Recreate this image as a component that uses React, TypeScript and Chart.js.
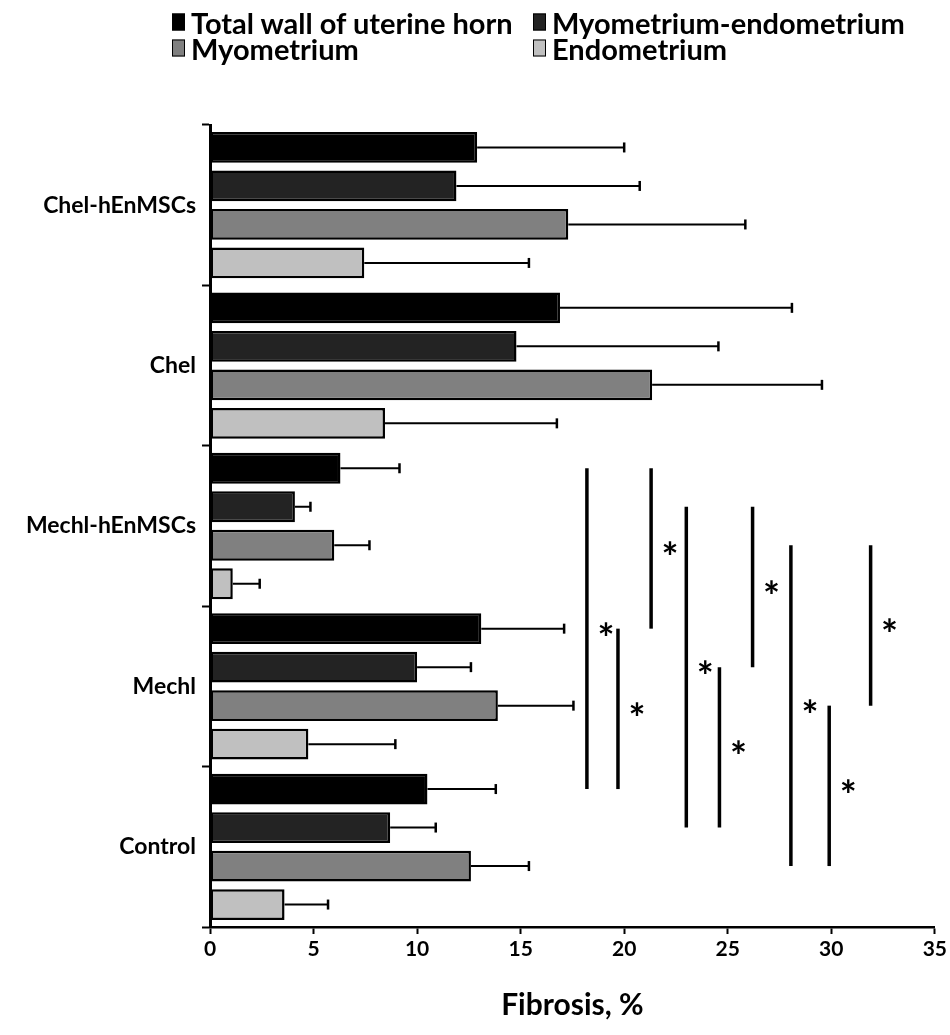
import React, { useEffect, useRef } from 'react';
import { Chart, registerables } from 'chart.js';

Chart.register(...registerables);

const categories = ['Chel-hEnMSCs', 'Chel', 'Mechl-hEnMSCs', 'Mechl', 'Control'];
const seriesLabels = ['Total wall of uterine horn', 'Myometrium-endometrium', 'Myometrium', 'Endometrium'];
const seriesColors = ['#000000', '#232323', '#808080', '#c0c0c0'];

const totalWall = [12.9, 16.9, 6.3, 13.1, 10.5];
const myoEndo = [11.9, 14.8, 4.1, 10.0, 8.7];
const myometrium = [17.3, 21.35, 6.0, 13.9, 12.6];
const endometrium = [7.45, 8.45, 1.1, 4.75, 3.6];

const totalWallSD = [7.1, 11.2, 2.85, 4.0, 3.3];
const myoEndoSD = [8.85, 9.75, 0.75, 2.6, 2.2];
const myometriumSD = [8.55, 8.2, 1.7, 3.65, 2.8];
const endometriumSD = [7.95, 8.3, 1.3, 4.2, 2.1];

const xTicks = [0, 5, 10, 15, 20, 25, 30, 35];
const xTitle = 'Fibrosis, %';

// significance brackets: series index, from category, to category, x value
const sigSeries = [0, 0, 0, 1, 1, 1, 2, 2, 2];
const sigFrom = [2, 3, 2, 2, 3, 2, 2, 3, 2];
const sigTo = [4, 4, 3, 4, 4, 3, 4, 4, 3];
const sigX = [18.2, 19.7, 21.3, 23.0, 24.6, 26.2, 28.05, 29.9, 31.9];

const seriesValues = [totalWall, myoEndo, myometrium, endometrium];
const seriesSD = [totalWallSD, myoEndoSD, myometriumSD, endometriumSD];

const FONT = 'Lato, "Open Sans", sans-serif';

const errorBarPlugin = {
  id: 'errorBars',
  afterDatasetsDraw(chart: any) {
    const ctx = chart.ctx;
    const xs = chart.scales.x;
    ctx.save();
    ctx.strokeStyle = '#000';
    seriesValues.forEach((vals, d) => {
      const meta = chart.getDatasetMeta(d);
      meta.data.forEach((bar: any, i: number) => {
        const x0 = xs.getPixelForValue(vals[i]);
        const x1 = xs.getPixelForValue(vals[i] + seriesSD[d][i]);
        const y = bar.y;
        ctx.lineWidth = 2;
        ctx.beginPath();
        ctx.moveTo(x0, y);
        ctx.lineTo(x1, y);
        ctx.stroke();
        ctx.lineWidth = 2.5;
        ctx.beginPath();
        ctx.moveTo(x1, y - 5);
        ctx.lineTo(x1, y + 5);
        ctx.stroke();
      });
    });
    ctx.restore();
  },
};

const significancePlugin = {
  id: 'significance',
  afterDraw(chart: any) {
    const ctx = chart.ctx;
    const xs = chart.scales.x;
    ctx.save();
    ctx.strokeStyle = '#000';
    ctx.fillStyle = '#000';
    ctx.lineWidth = 3.5;
    ctx.font = `bold 40px ${FONT}`;
    ctx.textAlign = 'center';
    ctx.textBaseline = 'alphabetic';
    const m = ctx.measureText('*');
    const A = m.actualBoundingBoxAscent;
    const D = m.actualBoundingBoxDescent;
    sigX.forEach((xv, k) => {
      const meta = chart.getDatasetMeta(sigSeries[k]);
      const y1 = meta.data[sigFrom[k]].y;
      const y2 = meta.data[sigTo[k]].y;
      const px = xs.getPixelForValue(xv);
      ctx.beginPath();
      ctx.moveTo(px, y1);
      ctx.lineTo(px, y2);
      ctx.stroke();
      const cy = (y1 + y2) / 2;
      ctx.fillText('*', px + 19, cy + (A - D) / 2);
    });
    ctx.restore();
  },
};

export default function App() {
  const ref = useRef<HTMLCanvasElement>(null);

  useEffect(() => {
    if (!ref.current) return;
    const chart = new Chart(ref.current, {
      type: 'bar',
      data: {
        labels: categories,
        datasets: seriesLabels.map((label, d) => ({
          label,
          data: seriesValues[d],
          backgroundColor: seriesColors[d],
          borderColor: '#000',
          borderWidth: 2.5,
          borderSkipped: false,
          categoryPercentage: 0.96,
          barPercentage: 0.8,
        })),
      },
      options: {
        indexAxis: 'y',
        responsive: false,
        animation: false,
        devicePixelRatio: 1,
        layout: { padding: { top: 125, right: 13, bottom: 0, left: 0 } },
        plugins: {
          legend: { display: false },
          tooltip: { enabled: false },
          title: { display: false },
        },
        scales: {
          x: {
            type: 'linear',
            min: xTicks[0],
            max: xTicks[xTicks.length - 1],
            afterFit: (s: any) => {
              s.height = 108;
            },
            ticks: {
              stepSize: 5,
              color: '#000',
              padding: 3,
              font: { family: FONT, weight: 'bold', size: 21 },
            },
            grid: {
              drawOnChartArea: false,
              drawTicks: true,
              tickLength: 7,
              tickColor: '#000',
              tickWidth: 2,
            },
            border: { color: '#000', width: 2.5 },
            title: {
              display: true,
              text: xTitle,
              color: '#000',
              font: { family: FONT, weight: 'bold', size: 30 },
              padding: { top: 0, bottom: 12 },
            },
          },
          y: {
            afterFit: (s: any) => {
              s.width = 210;
            },
            ticks: {
              color: '#000',
              padding: 6,
              font: { family: FONT, weight: 'bold', size: 23 },
            },
            grid: {
              drawOnChartArea: false,
              offset: true,
              drawTicks: true,
              tickLength: 8,
              tickColor: '#000',
              tickWidth: 2,
            },
            border: { color: '#000', width: 3 },
          },
        },
      },
      plugins: [errorBarPlugin, significancePlugin],
    } as any);
    return () => chart.destroy();
  }, []);

  const legendPos = [
    { left: 172, top: 22 },
    { left: 533, top: 22 },
    { left: 172, top: 48 },
    { left: 533, top: 48 },
  ];

  return (
    <div
      style={{
        position: 'fixed',
        left: 0,
        top: 0,
        width: 950,
        height: 1035,
        background: '#fff',
        overflow: 'hidden',
      }}
    >
      <canvas ref={ref} width={950} height={1035} style={{ position: 'absolute', left: 0, top: 0, width: 950, height: 1035 }} />
      {seriesLabels.map((label, d) => (
        <div
          key={label}
          style={{
            position: 'absolute',
            left: legendPos[d].left,
            top: legendPos[d].top,
            transform: 'translateY(-50%)',
            display: 'flex',
            alignItems: 'center',
            fontFamily: FONT,
            fontWeight: 'bold',
            fontSize: 29,
            color: '#000',
            whiteSpace: 'nowrap',
            lineHeight: 1,
          }}
        >
          <span
            style={{
              display: 'inline-block',
              width: 11,
              height: 15,
              background: seriesColors[d],
              border: '1.5px solid #000',
              marginRight: 6,
            }}
          />
          <span>{label}</span>
        </div>
      ))}
    </div>
  );
}
